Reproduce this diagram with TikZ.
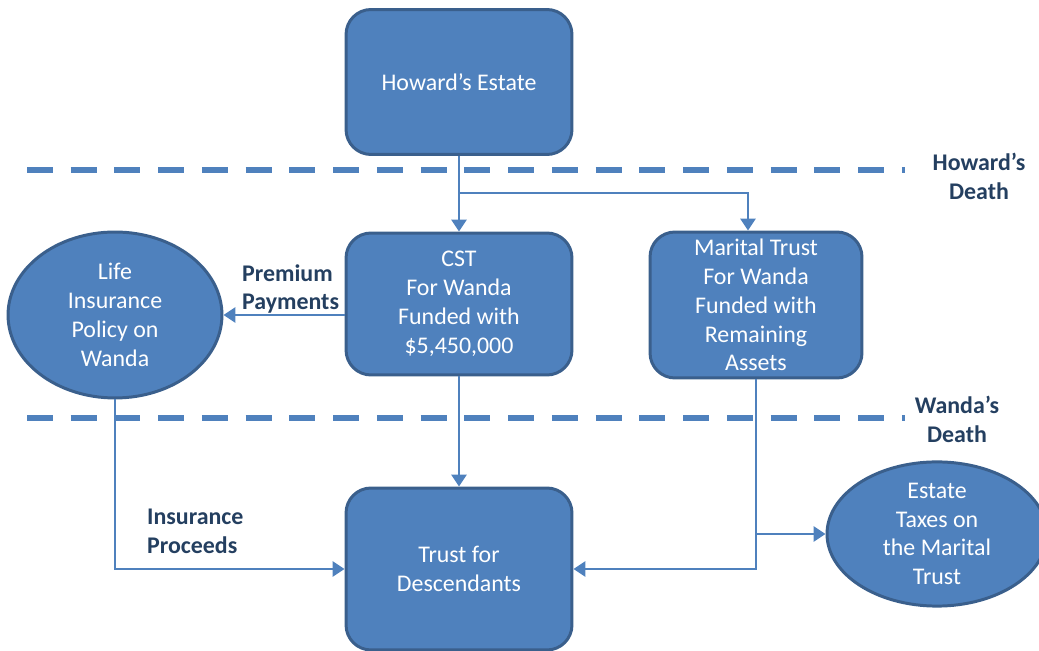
\documentclass[tikz,border=0pt]{standalone}
\usepackage{fontspec}
\setmainfont{Carlito}
\usepackage{xcolor}
\usepackage{tikz}
\usetikzlibrary{positioning,calc,shapes.geometric,arrows.meta}

\definecolor{boxfill}{HTML}{4F81BD}
\definecolor{boxline}{HTML}{3A5F8C}
\definecolor{labeltext}{HTML}{243F60}

\tikzset{
	stagebox/.style={draw=boxline, fill=boxfill, line width=1.7pt, rounded corners=0.5cm,
		text=white, align=center, inner sep=2pt, font=\fontsize{13.6}{16.4}\selectfont},
	policy/.style={ellipse, draw=boxline, fill=boxfill, line width=1.7pt,
		text=white, align=center, inner sep=0pt, font=\fontsize{13.6}{16.4}\selectfont},
	flow/.style={draw=boxfill, line width=1.7pt, -{Triangle[length=0.24cm, width=0.3cm]}},
	deathline/.style={draw=boxfill, line width=3.4pt, dash pattern=on 14.7pt off 10.2pt},
	steplabel/.style={text=labeltext, font=\fontsize{13.6}{16.4}\selectfont\bfseries, align=center},
}

\begin{document}
\begin{tikzpicture}[x=0.02cm, y=-0.02cm]
	\clip (0,0) rectangle (1039,651);

	% time lines
	\draw[deathline] (27,170) -- (905,170);
	\draw[deathline] (27,418) -- (905,418);
	\node[steplabel] (hdeath) at (979,176) {Howard’s\\Death};
	\node[steplabel] (wdeath) at (957,419) {Wanda’s\\Death};

	% trusts
	\node[stagebox, minimum width=4.52cm, minimum height=2.9cm] (estate) at (459,82) {Howard’s Estate};
	\node[stagebox, minimum width=4.52cm, minimum height=2.84cm] (cst) at (459,304) {CST\\For Wanda\\Funded with\\\$5,450,000};
	\node[stagebox, minimum width=4.24cm, minimum height=2.92cm] (marital) at (756,305) {Marital Trust\\For Wanda\\Funded with\\Remaining\\Assets};
	\node[stagebox, minimum width=4.52cm, minimum height=3.24cm] (desc) at (459,569) {Trust for\\Descendants};
	\node[policy, minimum width=4.28cm, minimum height=3.32cm] (life) at (115,315) {Life\\Insurance\\Policy on\\Wanda};
	\node[policy, minimum width=4.4cm, minimum height=2.76cm] (taxes) at (937,534) {Estate\\Taxes on\\the Marital\\Trust};

	% connectors
	\coordinate (split) at (459,193);
	\draw[flow] (estate.south) -- (cst.north);
	\draw[flow] (split) -| ([xshift=-0.16cm]marital.north);
	\draw[flow] (cst.west |- life.east) -- (life.east);
	\node[steplabel, align=left, anchor=west] (premium) at (236,289) {Premium\\Payments};
	\draw[flow] (cst.south) -- (desc.north);
	\draw[flow] (life.south) |- (desc.west);
	\node[steplabel, align=left, anchor=west] (proceeds) at (141,531) {Insurance\\Proceeds};
	\draw[flow] (marital.south) |- (desc.east);
	\draw[flow] (marital.south |- taxes.west) -- (taxes.west);
\end{tikzpicture}
\end{document}
